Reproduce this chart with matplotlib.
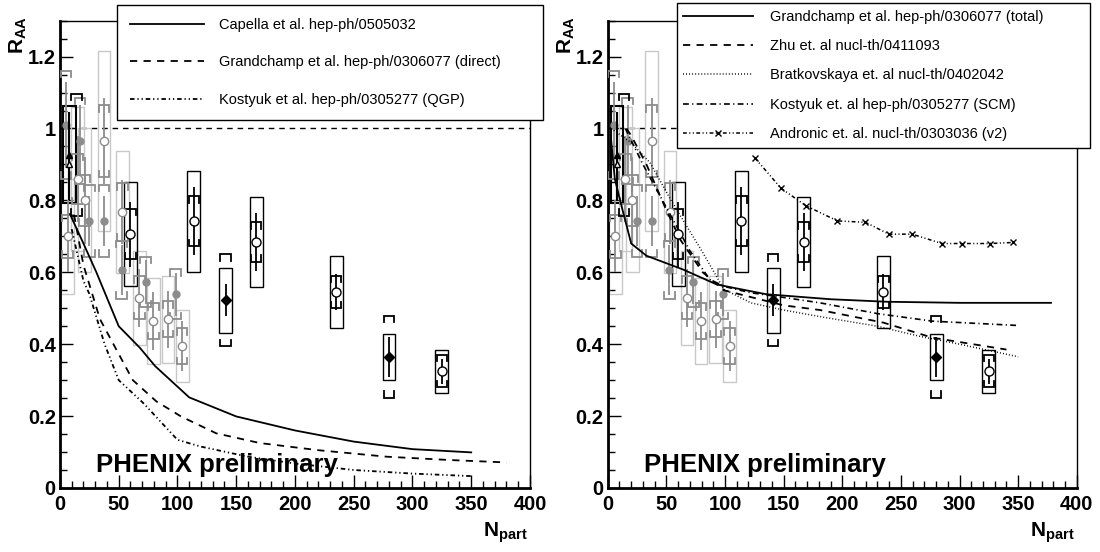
import matplotlib
matplotlib.use("Agg")
import matplotlib.pyplot as plt
from matplotlib.patches import Rectangle

plt.rcParams['font.family'] = ['Liberation Sans', 'DejaVu Sans']
plt.rcParams['mathtext.fontset'] = 'custom'
plt.rcParams['mathtext.rm'] = 'Liberation Sans'
plt.rcParams['mathtext.bf'] = 'Liberation Sans:bold'

# ---- data ----
# Cu+Cu mid rapidity (open gray)
cu_mid_npart = [6.5, 15, 21, 37.4, 53, 67.5, 79.4, 92, 104]
cu_mid_raa = [0.70, 0.86, 0.80, 0.965, 0.768, 0.529, 0.464, 0.469, 0.394]
cu_mid_stat = [0.10, 0.12, 0.12, 0.12, 0.09, 0.08, 0.08, 0.08, 0.07]
cu_mid_sys = [0.16, 0.20, 0.20, 0.25, 0.17, 0.13, 0.12, 0.12, 0.10]
cu_mid_brk = [0.06, 0.07, 0.07, 0.10, 0.08, 0.06, 0.05, 0.05, 0.05]

# Cu+Cu forward rapidity (filled gray)
cu_fwd_npart = [5, 17, 25, 37.4, 52.5, 73, 98.4]
cu_fwd_raa = [1.01, 0.965, 0.743, 0.743, 0.607, 0.573, 0.539]
cu_fwd_stat = [0.12, 0.10, 0.07, 0.07, 0.07, 0.06, 0.06]
cu_fwd_brk = [0.15, 0.12, 0.10, 0.10, 0.08, 0.07, 0.07]

# Au+Au mid rapidity (open black)
au_mid_npart = [60, 114, 167, 235, 325]
au_mid_raa = [0.706, 0.742, 0.684, 0.545, 0.325]
au_mid_stat = [0.09, 0.095, 0.08, 0.05, 0.035]
au_mid_sys = [0.145, 0.14, 0.126, 0.10, 0.06]
au_mid_brk = [0.07, 0.07, 0.055, 0.045, 0.045]

# Au+Au forward rapidity (filled black)
au_fwd_npart = [141, 280]
au_fwd_raa = [0.522, 0.365]
au_fwd_stat = [0.045, 0.055]
au_fwd_sys = [0.09, 0.064]
au_fwd_brk = [0.128, 0.114]

# peripheral reference (triangles)
ref_npart = [8, 8]
ref_raa = [0.927, 0.90]
ref_stat = [0.12, 0.10]
ref_sys = [0.135, 0.0]
ref_brk = [0.17, 0.0]

# ---- models, left panel ----
capella_n = [8.5, 20, 31, 50, 68, 81, 110, 150, 200, 250, 300, 350]
capella_r = [0.762, 0.68, 0.60, 0.45, 0.39, 0.339, 0.252, 0.199, 0.16, 0.129, 0.108, 0.099]
grand_dir_n = [12, 20, 34, 62, 82, 103, 133, 170, 220, 278, 330, 380]
grand_dir_r = [0.76, 0.62, 0.47, 0.30, 0.241, 0.199, 0.152, 0.125, 0.105, 0.087, 0.078, 0.071]
kost_qgp_n = [10, 20, 25, 38, 50, 71, 100, 120, 160, 200, 250, 300, 350]
kost_qgp_r = [0.72, 0.576, 0.54, 0.40, 0.30, 0.236, 0.134, 0.115, 0.087, 0.068, 0.05, 0.04, 0.033]

# ---- models, right panel ----
grand_tot_n = [2.8, 6, 11.7, 20, 33, 64, 93, 135, 190, 238, 300, 378]
grand_tot_r = [0.97, 0.86, 0.785, 0.68, 0.646, 0.608, 0.566, 0.539, 0.525, 0.518, 0.515, 0.515]
zhu_n = [16, 20, 33, 49, 62, 81, 99, 150, 181, 235, 277, 340]
zhu_r = [1.0, 0.98, 0.90, 0.78, 0.69, 0.60, 0.55, 0.508, 0.495, 0.46, 0.418, 0.385]
brat_n = [3, 20, 36, 54, 67, 81, 99, 122, 150, 184, 230, 266, 300, 350]
brat_r = [1.0, 0.96, 0.905, 0.80, 0.73, 0.655, 0.553, 0.515, 0.495, 0.475, 0.45, 0.422, 0.40, 0.365]
kost_scm_n = [15, 30, 50, 70, 87, 100, 122, 150, 181, 230, 277, 350]
kost_scm_r = [1.0, 0.90, 0.78, 0.66, 0.58, 0.56, 0.543, 0.53, 0.515, 0.485, 0.464, 0.452]
andr_n = [125.5, 147.7, 169, 195.8, 219.8, 239.7, 259.6, 285, 302, 326.2, 346]
andr_r = [0.918, 0.834, 0.785, 0.743, 0.739, 0.706, 0.706, 0.68, 0.68, 0.68, 0.683]

ytick_vals = [0, 0.2, 0.4, 0.6, 0.8, 1.0, 1.2]
ytick_labels = ['0', '0.2', '0.4', '0.6', '0.8', '1', '1.2']
xtick_vals = [0, 50, 100, 150, 200, 250, 300, 350, 400]

GRAY = '#8c8c8c'
LGRAY = '#c8c8c8'

DASH = (0, (4, 3.5))
DOT = (0, (0.6, 1.4))
DASHDOT = (0, (3.5, 2, 0.7, 2))
DASHDOTDOT = (0, (2.5, 1.6, 0.7, 1.6, 0.7, 1.6))


def boxes(ax, npart, raa, sys, w, color, lw=1.0):
    for x, y, s in zip(npart, raa, sys):
        if s > 0:
            ax.add_patch(Rectangle((x - w, y - s), 2 * w, 2 * s, fill=False,
                                   ec=color, lw=lw, zorder=2))


def brackets(ax, npart, raa, brk, w, color, lw=1.3):
    t = 0.018
    for x, y, b in zip(npart, raa, brk):
        if b <= 0:
            continue
        ax.plot([x - w, x - w, x + w, x + w], [y + b - t, y + b, y + b, y + b - t],
                color=color, lw=lw, zorder=3, solid_joinstyle='miter')
        ax.plot([x - w, x - w, x + w, x + w], [y - b + t, y - b, y - b, y - b + t],
                color=color, lw=lw, zorder=3, solid_joinstyle='miter')


def draw_data(ax):
    boxes(ax, cu_mid_npart, cu_mid_raa, cu_mid_sys, 5.4, LGRAY)
    brackets(ax, cu_mid_npart, cu_mid_raa, cu_mid_brk, 4.5, GRAY)
    brackets(ax, cu_fwd_npart, cu_fwd_raa, cu_fwd_brk, 4.5, GRAY)
    ax.errorbar(cu_fwd_npart, cu_fwd_raa, yerr=cu_fwd_stat, fmt='o', color=GRAY,
                ms=5, elinewidth=1.3, capsize=0, zorder=4)
    ax.errorbar(cu_mid_npart, cu_mid_raa, yerr=cu_mid_stat, fmt='o', color=GRAY,
                mfc='white', mec=GRAY, ms=6, elinewidth=1.3, capsize=0, zorder=4)

    boxes(ax, au_mid_npart, au_mid_raa, au_mid_sys, 5.5, 'black')
    brackets(ax, au_mid_npart, au_mid_raa, au_mid_brk, 4.5, 'black')
    ax.errorbar(au_mid_npart, au_mid_raa, yerr=au_mid_stat, fmt='o', color='black',
                mfc='white', mec='black', ms=6.5, elinewidth=1.3, capsize=0, zorder=6)

    boxes(ax, au_fwd_npart, au_fwd_raa, au_fwd_sys, 5.5, 'black')
    brackets(ax, au_fwd_npart, au_fwd_raa, au_fwd_brk, 4.5, 'black')
    ax.errorbar(au_fwd_npart, au_fwd_raa, yerr=au_fwd_stat, fmt='D', color='black',
                ms=5, elinewidth=1.3, capsize=0, zorder=6)

    boxes(ax, ref_npart, ref_raa, ref_sys, 5.3, 'black', lw=1.5)
    brackets(ax, [x + 6 for x in ref_npart], ref_raa, ref_brk, 4.5, 'black')
    ax.errorbar(ref_npart[:1], ref_raa[:1], yerr=ref_stat[:1], fmt='^', color='black',
                ms=5, elinewidth=1.5, capsize=0, zorder=6)
    ax.errorbar(ref_npart[1:], ref_raa[1:], yerr=ref_stat[1:], fmt='^', color='black',
                mfc='white', mec='black', ms=5, elinewidth=1.5, capsize=0, zorder=6)


def style_axes(ax):
    ax.set_xlim(0, 400)
    ax.set_ylim(0, 1.3)
    ax.set_xticks(xtick_vals, labels=[str(v) for v in xtick_vals],
                  fontsize=14.5, fontweight='bold')
    ax.set_yticks(ytick_vals, labels=ytick_labels, fontsize=14.5, fontweight='bold')
    ax.set_xticks(range(0, 401, 10), minor=True)
    ax.set_yticks([i * 0.05 for i in range(27)], minor=True)
    ax.tick_params(which='both', direction='in', top=False, right=False, width=1)
    ax.tick_params(which='major', length=9.5)
    ax.tick_params(which='minor', length=4.8)
    ax.tick_params(axis='x', pad=5)
    ax.tick_params(axis='y', pad=3)
    ax.spines['left'].set_linewidth(2)
    ax.spines['bottom'].set_linewidth(2)
    ax.spines['top'].set_linewidth(1)
    ax.spines['right'].set_linewidth(1)
    ax.axhline(1.0, color='black', lw=1, ls=DASH, zorder=1)
    ax.set_ylabel(r'$\mathbf{R}_{\mathbf{AA}}$', fontsize=15, loc='top')
    ax.yaxis.set_label_coords(-0.066, 1.01)
    ax.set_xlabel(r'$\mathbf{N}_{\mathbf{part}}$', fontsize=15, loc='right')
    ax.xaxis.set_label_coords(0.996, -0.07)
    ax.text(31, 0.045, 'PHENIX preliminary', fontsize=18.5, fontweight='bold',
            va='baseline', zorder=8)


fig = plt.figure(figsize=(11, 5.52), dpi=100)
ax1 = fig.add_axes([0.0545, 0.116, 0.4273, 0.8466])
ax2 = fig.add_axes([0.5525, 0.116, 0.4264, 0.8466])

for ax in (ax1, ax2):
    draw_data(ax)
    style_axes(ax)

# left panel models
l1, = ax1.plot(capella_n, capella_r, color='black', lw=1.3, ls='-', zorder=5,
               label='Capella et al. hep-ph/0505032')
l2, = ax1.plot(grand_dir_n, grand_dir_r, color='black', lw=1.3, ls=DASH, zorder=5,
               label='Grandchamp et al. hep-ph/0306077 (direct)')
l3, = ax1.plot(kost_qgp_n, kost_qgp_r, color='black', lw=1.3, ls=DASHDOTDOT, zorder=5,
               label='Kostyuk et al. hep-ph/0305277 (QGP)')

# right panel models
r1, = ax2.plot(grand_tot_n, grand_tot_r, color='black', lw=1.3, ls='-', zorder=5,
               label='Grandchamp et al. hep-ph/0306077 (total)')
r2, = ax2.plot(zhu_n, zhu_r, color='black', lw=1.3, ls=DASH, zorder=5,
               label='Zhu et. al nucl-th/0411093')
r3, = ax2.plot(brat_n, brat_r, color='black', lw=1.1, ls=DOT, zorder=5,
               label='Bratkovskaya et. al nucl-th/0402042')
r4, = ax2.plot(kost_scm_n, kost_scm_r, color='black', lw=1.2, ls=DASHDOT, zorder=5,
               label='Kostyuk et. al hep-ph/0305277 (SCM)')
r5, = ax2.plot(andr_n, andr_r, color='black', lw=1.1, ls=DASHDOTDOT, marker='x',
               ms=5, mew=1, zorder=5, label='Andronic et. al. nucl-th/0303036 (v2)')

leg1 = fig.legend(handles=[l1, l2, l3], loc='upper left',
                  bbox_to_anchor=(0.1066, 0.991, 0.3873, 0), mode='expand',
                  borderaxespad=0, fontsize=10.5, handlelength=5.1, handletextpad=1.0,
                  labelspacing=1.62, borderpad=0.88, fancybox=False,
                  edgecolor='black', framealpha=1)
leg1.get_frame().set_linewidth(1.0)

leg2 = fig.legend(handles=[r1, r2, r3, r4, r5], loc='upper left',
                  bbox_to_anchor=(0.6152, 0.994, 0.3757, 0), mode='expand',
                  borderaxespad=0, fontsize=10.5, handlelength=4.8, handletextpad=1.15,
                  labelspacing=1.05, borderpad=0.45, fancybox=False,
                  edgecolor='black', framealpha=1)
leg2.get_frame().set_linewidth(1.0)

fig.savefig('out.png', dpi=100)
